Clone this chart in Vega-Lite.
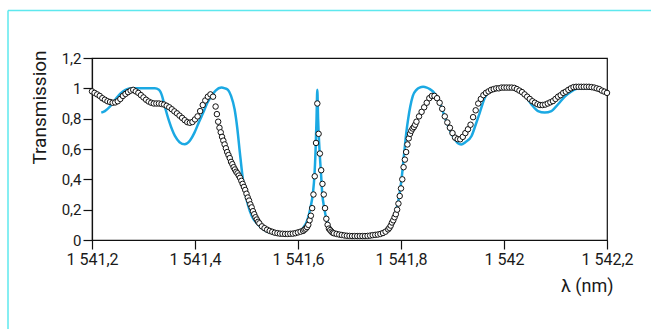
{
  "$schema": "https://vega.github.io/schema/vega-lite/v6.json",
  "width": 515,
  "height": 182,
  "autosize": {"type": "none"},
  "padding": {"left": 92, "top": 58, "right": 44, "bottom": 89},
  "background": "white",
  "config": {
    "locale": {"number": {"decimal": ",", "thousands": " ", "grouping": [3], "currency": ["", " €"]}},
    "view": {"stroke": "#111", "strokeWidth": 1.2},
    "axis": {"grid": false, "domainColor": "#111", "domainWidth": 1.2, "tickColor": "#111", "tickWidth": 1.2, "tickSize": 9,
      "labelFont": "Roboto", "labelFontSize": 15, "labelColor": "#1a1a1a", "labelPadding": 2, "labelOverlap": false, "labelFlush": false, "labelBound": false,
      "titleFont": "Roboto", "titleFontWeight": "normal", "titleColor": "#1a1a1a"}
  },
  "datasets": {
    "theory": [
      {"lambda": 1541.218, "T": 0.84}, {"lambda": 1541.225, "T": 0.85}, {"lambda": 1541.235, "T": 0.88}, {"lambda": 1541.245, "T": 0.925},
      {"lambda": 1541.255, "T": 0.965}, {"lambda": 1541.265, "T": 0.99}, {"lambda": 1541.276, "T": 1.0}, {"lambda": 1541.300, "T": 1.0},
      {"lambda": 1541.322, "T": 1.0}, {"lambda": 1541.330, "T": 0.99}, {"lambda": 1541.336, "T": 0.95}, {"lambda": 1541.341, "T": 0.885},
      {"lambda": 1541.350, "T": 0.78}, {"lambda": 1541.361, "T": 0.686}, {"lambda": 1541.370, "T": 0.645}, {"lambda": 1541.380, "T": 0.631},
      {"lambda": 1541.390, "T": 0.655}, {"lambda": 1541.399, "T": 0.708}, {"lambda": 1541.408, "T": 0.78}, {"lambda": 1541.416, "T": 0.84},
      {"lambda": 1541.424, "T": 0.905}, {"lambda": 1541.432, "T": 0.95}, {"lambda": 1541.440, "T": 0.985}, {"lambda": 1541.451, "T": 1.005},
      {"lambda": 1541.458, "T": 1.0}, {"lambda": 1541.464, "T": 0.99}, {"lambda": 1541.470, "T": 0.95}, {"lambda": 1541.477, "T": 0.86},
      {"lambda": 1541.482, "T": 0.74}, {"lambda": 1541.487, "T": 0.58}, {"lambda": 1541.493, "T": 0.40}, {"lambda": 1541.498, "T": 0.30},
      {"lambda": 1541.503, "T": 0.23}, {"lambda": 1541.510, "T": 0.16}, {"lambda": 1541.520, "T": 0.11}, {"lambda": 1541.529, "T": 0.08},
      {"lambda": 1541.540, "T": 0.055}, {"lambda": 1541.550, "T": 0.045}, {"lambda": 1541.561, "T": 0.04}, {"lambda": 1541.575, "T": 0.04},
      {"lambda": 1541.590, "T": 0.045}, {"lambda": 1541.600, "T": 0.055}, {"lambda": 1541.610, "T": 0.08}, {"lambda": 1541.619, "T": 0.14},
      {"lambda": 1541.624, "T": 0.21}, {"lambda": 1541.629, "T": 0.31}, {"lambda": 1541.632, "T": 0.43}, {"lambda": 1541.634, "T": 0.58},
      {"lambda": 1541.636, "T": 0.80}, {"lambda": 1541.6375, "T": 0.99}, {"lambda": 1541.639, "T": 0.80}, {"lambda": 1541.642, "T": 0.58},
      {"lambda": 1541.645, "T": 0.42}, {"lambda": 1541.647, "T": 0.31}, {"lambda": 1541.651, "T": 0.21}, {"lambda": 1541.655, "T": 0.14},
      {"lambda": 1541.662, "T": 0.08}, {"lambda": 1541.670, "T": 0.055}, {"lambda": 1541.678, "T": 0.04}, {"lambda": 1541.690, "T": 0.03},
      {"lambda": 1541.700, "T": 0.022}, {"lambda": 1541.720, "T": 0.018}, {"lambda": 1541.740, "T": 0.022}, {"lambda": 1541.749, "T": 0.026},
      {"lambda": 1541.760, "T": 0.04}, {"lambda": 1541.770, "T": 0.06}, {"lambda": 1541.775, "T": 0.08}, {"lambda": 1541.783, "T": 0.12},
      {"lambda": 1541.791, "T": 0.20}, {"lambda": 1541.797, "T": 0.30}, {"lambda": 1541.801, "T": 0.40}, {"lambda": 1541.807, "T": 0.60},
      {"lambda": 1541.810, "T": 0.70}, {"lambda": 1541.814, "T": 0.80}, {"lambda": 1541.818, "T": 0.88}, {"lambda": 1541.823, "T": 0.95},
      {"lambda": 1541.830, "T": 0.99}, {"lambda": 1541.836, "T": 1.005}, {"lambda": 1541.843, "T": 1.01}, {"lambda": 1541.850, "T": 1.005},
      {"lambda": 1541.856, "T": 0.995}, {"lambda": 1541.862, "T": 0.98}, {"lambda": 1541.870, "T": 0.94}, {"lambda": 1541.878, "T": 0.88},
      {"lambda": 1541.886, "T": 0.80}, {"lambda": 1541.894, "T": 0.73}, {"lambda": 1541.903, "T": 0.67}, {"lambda": 1541.910, "T": 0.64},
      {"lambda": 1541.917, "T": 0.63}, {"lambda": 1541.925, "T": 0.645}, {"lambda": 1541.937, "T": 0.686}, {"lambda": 1541.945, "T": 0.76},
      {"lambda": 1541.953, "T": 0.84}, {"lambda": 1541.963, "T": 0.94}, {"lambda": 1541.972, "T": 0.98}, {"lambda": 1541.982, "T": 0.99},
      {"lambda": 1541.995, "T": 1.0}, {"lambda": 1542.010, "T": 1.0}, {"lambda": 1542.027, "T": 0.995}, {"lambda": 1542.040, "T": 0.955},
      {"lambda": 1542.053, "T": 0.895}, {"lambda": 1542.066, "T": 0.85}, {"lambda": 1542.079, "T": 0.84}, {"lambda": 1542.092, "T": 0.85},
      {"lambda": 1542.105, "T": 0.895}, {"lambda": 1542.118, "T": 0.945}, {"lambda": 1542.131, "T": 0.98}, {"lambda": 1542.145, "T": 1.0},
      {"lambda": 1542.170, "T": 1.0}, {"lambda": 1542.190, "T": 1.0}
    ],
    "exp": [
      {"lambda": 1541.200, "T": 0.98}, {"lambda": 1541.205, "T": 0.97}, {"lambda": 1541.210, "T": 0.96}, {"lambda": 1541.215, "T": 0.95},
      {"lambda": 1541.220, "T": 0.935}, {"lambda": 1541.225, "T": 0.925}, {"lambda": 1541.230, "T": 0.915}, {"lambda": 1541.235, "T": 0.91},
      {"lambda": 1541.240, "T": 0.905}, {"lambda": 1541.245, "T": 0.907}, {"lambda": 1541.250, "T": 0.915}, {"lambda": 1541.255, "T": 0.93},
      {"lambda": 1541.260, "T": 0.95}, {"lambda": 1541.265, "T": 0.963}, {"lambda": 1541.270, "T": 0.975}, {"lambda": 1541.275, "T": 0.985},
      {"lambda": 1541.280, "T": 0.99}, {"lambda": 1541.285, "T": 0.98}, {"lambda": 1541.290, "T": 0.97}, {"lambda": 1541.295, "T": 0.955},
      {"lambda": 1541.300, "T": 0.94}, {"lambda": 1541.305, "T": 0.925}, {"lambda": 1541.310, "T": 0.913}, {"lambda": 1541.315, "T": 0.905},
      {"lambda": 1541.320, "T": 0.90}, {"lambda": 1541.325, "T": 0.90}, {"lambda": 1541.330, "T": 0.90}, {"lambda": 1541.335, "T": 0.897},
      {"lambda": 1541.340, "T": 0.893}, {"lambda": 1541.345, "T": 0.885}, {"lambda": 1541.350, "T": 0.875}, {"lambda": 1541.355, "T": 0.862},
      {"lambda": 1541.360, "T": 0.848}, {"lambda": 1541.365, "T": 0.835}, {"lambda": 1541.370, "T": 0.82}, {"lambda": 1541.375, "T": 0.805},
      {"lambda": 1541.380, "T": 0.79}, {"lambda": 1541.385, "T": 0.777}, {"lambda": 1541.390, "T": 0.773}, {"lambda": 1541.395, "T": 0.778},
      {"lambda": 1541.400, "T": 0.795}, {"lambda": 1541.405, "T": 0.815}, {"lambda": 1541.410, "T": 0.85}, {"lambda": 1541.415, "T": 0.89},
      {"lambda": 1541.420, "T": 0.92}, {"lambda": 1541.425, "T": 0.945}, {"lambda": 1541.430, "T": 0.96}, {"lambda": 1541.435, "T": 0.945},
      {"lambda": 1541.4400, "T": 0.88}, {"lambda": 1541.4425, "T": 0.83}, {"lambda": 1541.4450, "T": 0.78}, {"lambda": 1541.4475, "T": 0.74},
      {"lambda": 1541.4500, "T": 0.71}, {"lambda": 1541.4525, "T": 0.68}, {"lambda": 1541.4550, "T": 0.655}, {"lambda": 1541.4575, "T": 0.63},
      {"lambda": 1541.4600, "T": 0.605}, {"lambda": 1541.4625, "T": 0.58}, {"lambda": 1541.4650, "T": 0.56}, {"lambda": 1541.4675, "T": 0.54},
      {"lambda": 1541.4700, "T": 0.515}, {"lambda": 1541.4725, "T": 0.50}, {"lambda": 1541.4750, "T": 0.48}, {"lambda": 1541.4775, "T": 0.465},
      {"lambda": 1541.4800, "T": 0.45}, {"lambda": 1541.4825, "T": 0.44}, {"lambda": 1541.4850, "T": 0.425}, {"lambda": 1541.4875, "T": 0.41},
      {"lambda": 1541.4900, "T": 0.39}, {"lambda": 1541.4925, "T": 0.37}, {"lambda": 1541.4950, "T": 0.35}, {"lambda": 1541.4975, "T": 0.33},
      {"lambda": 1541.5000, "T": 0.305}, {"lambda": 1541.5025, "T": 0.28}, {"lambda": 1541.5050, "T": 0.26}, {"lambda": 1541.5075, "T": 0.235},
      {"lambda": 1541.5100, "T": 0.215}, {"lambda": 1541.5125, "T": 0.19}, {"lambda": 1541.5150, "T": 0.17}, {"lambda": 1541.5175, "T": 0.15},
      {"lambda": 1541.5200, "T": 0.135}, {"lambda": 1541.5225, "T": 0.12}, {"lambda": 1541.5250, "T": 0.11},
      {"lambda": 1541.530, "T": 0.09}, {"lambda": 1541.535, "T": 0.078}, {"lambda": 1541.540, "T": 0.068}, {"lambda": 1541.545, "T": 0.06},
      {"lambda": 1541.550, "T": 0.054}, {"lambda": 1541.555, "T": 0.048}, {"lambda": 1541.560, "T": 0.045}, {"lambda": 1541.565, "T": 0.042},
      {"lambda": 1541.570, "T": 0.041}, {"lambda": 1541.575, "T": 0.04}, {"lambda": 1541.580, "T": 0.04}, {"lambda": 1541.585, "T": 0.041},
      {"lambda": 1541.590, "T": 0.042}, {"lambda": 1541.595, "T": 0.045}, {"lambda": 1541.600, "T": 0.05}, {"lambda": 1541.605, "T": 0.055},
      {"lambda": 1541.6100, "T": 0.06}, {"lambda": 1541.6125, "T": 0.068}, {"lambda": 1541.6150, "T": 0.075}, {"lambda": 1541.6175, "T": 0.085},
      {"lambda": 1541.6200, "T": 0.10}, {"lambda": 1541.6225, "T": 0.13}, {"lambda": 1541.6250, "T": 0.16}, {"lambda": 1541.6275, "T": 0.21},
      {"lambda": 1541.6300, "T": 0.30}, {"lambda": 1541.6325, "T": 0.42}, {"lambda": 1541.6350, "T": 0.64}, {"lambda": 1541.6375, "T": 0.90},
      {"lambda": 1541.6400, "T": 0.70}, {"lambda": 1541.6425, "T": 0.57}, {"lambda": 1541.6450, "T": 0.46}, {"lambda": 1541.6475, "T": 0.37},
      {"lambda": 1541.6500, "T": 0.30}, {"lambda": 1541.6525, "T": 0.21}, {"lambda": 1541.6550, "T": 0.14}, {"lambda": 1541.6575, "T": 0.10},
      {"lambda": 1541.6600, "T": 0.075}, {"lambda": 1541.6625, "T": 0.065}, {"lambda": 1541.6650, "T": 0.055}, {"lambda": 1541.6675, "T": 0.048},
      {"lambda": 1541.670, "T": 0.044}, {"lambda": 1541.675, "T": 0.04}, {"lambda": 1541.680, "T": 0.036}, {"lambda": 1541.685, "T": 0.033},
      {"lambda": 1541.690, "T": 0.03}, {"lambda": 1541.695, "T": 0.028}, {"lambda": 1541.700, "T": 0.027}, {"lambda": 1541.705, "T": 0.026},
      {"lambda": 1541.710, "T": 0.026}, {"lambda": 1541.715, "T": 0.026}, {"lambda": 1541.720, "T": 0.026}, {"lambda": 1541.725, "T": 0.026},
      {"lambda": 1541.730, "T": 0.026}, {"lambda": 1541.735, "T": 0.027}, {"lambda": 1541.740, "T": 0.029}, {"lambda": 1541.745, "T": 0.032},
      {"lambda": 1541.750, "T": 0.034}, {"lambda": 1541.755, "T": 0.036}, {"lambda": 1541.760, "T": 0.04}, {"lambda": 1541.765, "T": 0.046},
      {"lambda": 1541.770, "T": 0.055}, {"lambda": 1541.7750, "T": 0.07}, {"lambda": 1541.7775, "T": 0.08}, {"lambda": 1541.7800, "T": 0.095},
      {"lambda": 1541.7825, "T": 0.115}, {"lambda": 1541.7850, "T": 0.13}, {"lambda": 1541.7875, "T": 0.15}, {"lambda": 1541.7900, "T": 0.17},
      {"lambda": 1541.7925, "T": 0.20}, {"lambda": 1541.7950, "T": 0.24}, {"lambda": 1541.7975, "T": 0.29}, {"lambda": 1541.8000, "T": 0.34},
      {"lambda": 1541.8025, "T": 0.40}, {"lambda": 1541.8050, "T": 0.48}, {"lambda": 1541.8075, "T": 0.53}, {"lambda": 1541.8100, "T": 0.58},
      {"lambda": 1541.8125, "T": 0.63}, {"lambda": 1541.8150, "T": 0.67}, {"lambda": 1541.8175, "T": 0.70}, {"lambda": 1541.8200, "T": 0.72},
      {"lambda": 1541.8225, "T": 0.735}, {"lambda": 1541.8250, "T": 0.745}, {"lambda": 1541.8275, "T": 0.76}, {"lambda": 1541.830, "T": 0.78},
      {"lambda": 1541.835, "T": 0.815}, {"lambda": 1541.840, "T": 0.845}, {"lambda": 1541.845, "T": 0.875}, {"lambda": 1541.850, "T": 0.905},
      {"lambda": 1541.855, "T": 0.935}, {"lambda": 1541.860, "T": 0.95}, {"lambda": 1541.865, "T": 0.95}, {"lambda": 1541.870, "T": 0.935},
      {"lambda": 1541.875, "T": 0.905}, {"lambda": 1541.880, "T": 0.865}, {"lambda": 1541.885, "T": 0.815}, {"lambda": 1541.890, "T": 0.775},
      {"lambda": 1541.895, "T": 0.74}, {"lambda": 1541.900, "T": 0.705}, {"lambda": 1541.905, "T": 0.675}, {"lambda": 1541.910, "T": 0.665},
      {"lambda": 1541.915, "T": 0.664}, {"lambda": 1541.920, "T": 0.68}, {"lambda": 1541.925, "T": 0.705}, {"lambda": 1541.930, "T": 0.73},
      {"lambda": 1541.935, "T": 0.76}, {"lambda": 1541.940, "T": 0.81}, {"lambda": 1541.945, "T": 0.855}, {"lambda": 1541.950, "T": 0.90},
      {"lambda": 1541.955, "T": 0.93}, {"lambda": 1541.960, "T": 0.955}, {"lambda": 1541.965, "T": 0.97}, {"lambda": 1541.970, "T": 0.98},
      {"lambda": 1541.975, "T": 0.99}, {"lambda": 1541.980, "T": 0.995}, {"lambda": 1541.985, "T": 1.0}, {"lambda": 1541.990, "T": 1.0},
      {"lambda": 1541.995, "T": 1.005}, {"lambda": 1542.000, "T": 1.005}, {"lambda": 1542.005, "T": 1.005}, {"lambda": 1542.010, "T": 1.005},
      {"lambda": 1542.015, "T": 1.005}, {"lambda": 1542.020, "T": 1.003}, {"lambda": 1542.025, "T": 0.995}, {"lambda": 1542.030, "T": 0.985},
      {"lambda": 1542.035, "T": 0.975}, {"lambda": 1542.040, "T": 0.96}, {"lambda": 1542.045, "T": 0.945}, {"lambda": 1542.050, "T": 0.93},
      {"lambda": 1542.055, "T": 0.915}, {"lambda": 1542.060, "T": 0.905}, {"lambda": 1542.065, "T": 0.895}, {"lambda": 1542.070, "T": 0.89},
      {"lambda": 1542.075, "T": 0.89}, {"lambda": 1542.080, "T": 0.893}, {"lambda": 1542.085, "T": 0.90}, {"lambda": 1542.090, "T": 0.908},
      {"lambda": 1542.095, "T": 0.916}, {"lambda": 1542.100, "T": 0.93}, {"lambda": 1542.105, "T": 0.945}, {"lambda": 1542.110, "T": 0.955},
      {"lambda": 1542.115, "T": 0.97}, {"lambda": 1542.120, "T": 0.978}, {"lambda": 1542.125, "T": 0.99}, {"lambda": 1542.130, "T": 1.0},
      {"lambda": 1542.135, "T": 1.008}, {"lambda": 1542.140, "T": 1.01}, {"lambda": 1542.145, "T": 1.01}, {"lambda": 1542.150, "T": 1.01},
      {"lambda": 1542.155, "T": 1.01}, {"lambda": 1542.160, "T": 1.01}, {"lambda": 1542.165, "T": 1.01}, {"lambda": 1542.170, "T": 1.008},
      {"lambda": 1542.175, "T": 1.005}, {"lambda": 1542.180, "T": 1.0}, {"lambda": 1542.185, "T": 0.995}, {"lambda": 1542.190, "T": 0.985},
      {"lambda": 1542.195, "T": 0.978}, {"lambda": 1542.200, "T": 0.97}
    ],
    "frame": [
      {"x1": 1541.0369, "x2": 1542.3, "y1": 1.514, "y2": 1.514},
      {"x1": 1541.0369, "x2": 1541.0369, "y1": 1.514, "y2": -0.7}
    ]
  },
  "encoding": {
    "x": {"type": "quantitative",
      "scale": {"domain": [1541.2, 1542.2], "nice": false, "zero": false},
      "axis": {"title": "λ (nm)", "values": [1541.2, 1541.4, 1541.6, 1541.8, 1542.0, 1542.2], "format": ",.1~f", "labelFontSize": 16,
        "labelOverlap": false, "labelFlush": false,
        "titleFontSize": 18, "titleAlign": "right", "titleAnchor": "end", "titleX": 521, "titleY": 46, "titleBaseline": "middle"}},
    "y": {"type": "quantitative",
      "scale": {"domain": [0, 1.2], "nice": false, "zero": false},
      "axis": {"title": "Transmission", "values": [0, 0.2, 0.4, 0.6, 0.8, 1, 1.2], "tickCount": 7, "format": ".1~f", "labelFontSize": 15,
        "labelOverlap": false, "labelFlush": false, "labelBound": false,
        "titleFontSize": 19, "titleAngle": -90, "titleX": -53, "titleY": 49, "titleAlign": "center", "titleBaseline": "middle"}}
  },
  "layer": [
    {
      "data": {"name": "frame"},
      "mark": {"type": "rule", "color": "#5ee8ee", "strokeWidth": 1.5},
      "encoding": {
        "x": {"field": "x1"},
        "x2": {"field": "x2"},
        "y": {"field": "y1"},
        "y2": {"field": "y2"}
      }
    },
    {
      "data": {"name": "theory"},
      "mark": {"type": "line", "color": "#1ba9e3", "strokeWidth": 2.5, "interpolate": "monotone"},
      "encoding": {
        "x": {"field": "lambda"},
        "y": {"field": "T"}
      }
    },
    {
      "data": {"name": "exp"},
      "mark": {"type": "point", "shape": "circle", "filled": true, "fill": "white", "stroke": "#111", "strokeWidth": 1, "size": 30, "opacity": 1},
      "encoding": {
        "x": {"field": "lambda"},
        "y": {"field": "T"}
      }
    }
  ]
}
